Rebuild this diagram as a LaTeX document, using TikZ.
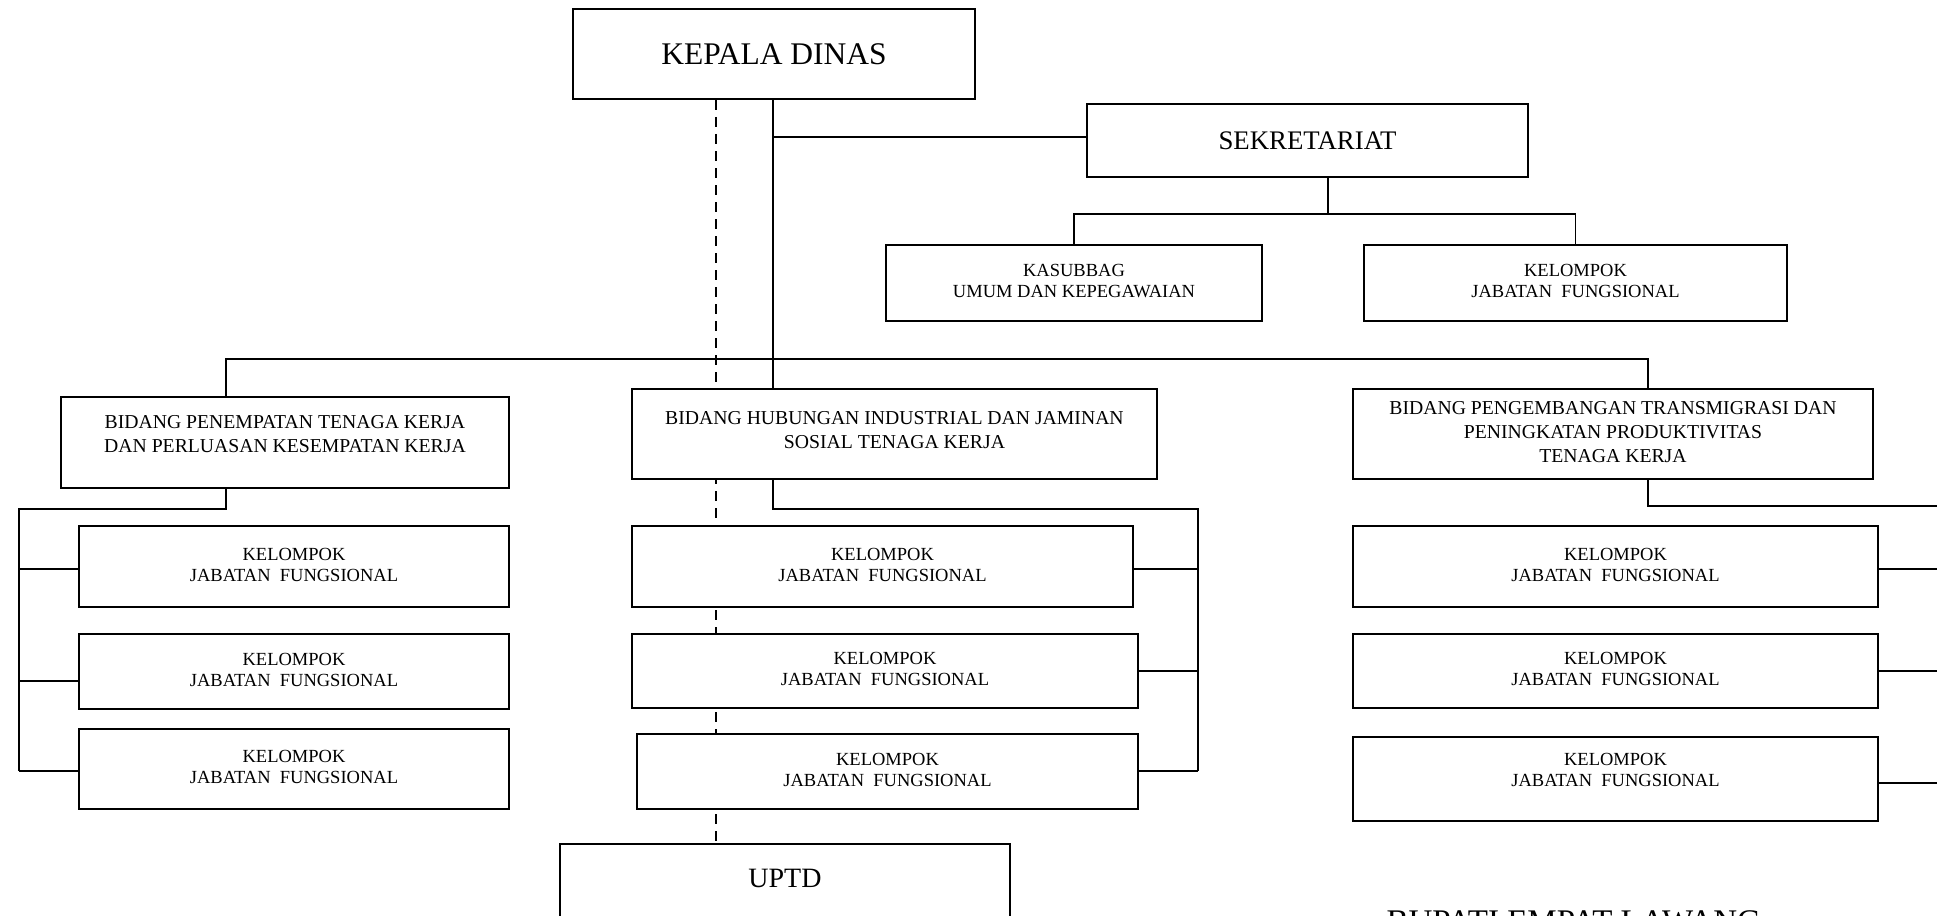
\documentclass[tikz,border=0pt]{standalone}
\usepackage{fontspec}
\setmainfont{Liberation Serif}
\newcommand\mlines[2]{\raisebox{#1}[\height][\depth]{\begin{tabular}{@{}c@{}}#2\end{tabular}}}
\pgfdeclarelayer{bg}
\pgfsetlayers{bg,main}
\tikzset{
  box/.style={draw, line width=2pt, fill=white, rectangle, inner sep=0pt},
  conn/.style={line width=1.7pt},
  dashconn/.style={line width=1.7pt, dash pattern=on 10pt off 7pt},
  bigtxt/.style={font=\fontsize{31.5}{36}\selectfont},
  sektxt/.style={font=\fontsize{26.8}{32}\selectfont},
  uptdtxt/.style={font=\fontsize{28}{32}\selectfont},
  bidtxt/.style={font=\fontsize{19.7}{24}\selectfont},
  keltxt/.style={font=\fontsize{18.5}{21}\selectfont},
  kelbox/.style={box, keltxt},
}
\newcommand\kel{\mlines{0pt}{KELOMPOK\\JABATAN~\ FUNGSIONAL}}
\begin{document}
\begin{tikzpicture}[x=1pt,y=-1pt]
\useasboundingbox (0,0) rectangle (1937,915);
\clip (0,0) rectangle (1937,915);

% boxes
\node[box, bigtxt, minimum width=402pt, minimum height=90pt] (KD) at (774,54) {KEPALA DINAS};
\node[box, sektxt, minimum width=441pt, minimum height=73pt] (SEKR) at (1307.5,140.5) {SEKRETARIAT};
\node[kelbox, minimum width=376pt, minimum height=76pt] (KASUB) at (1074,283) {\mlines{0pt}{KASUBBAG\\UMUM DAN KEPEGAWAIAN}};
\node[kelbox, minimum width=423pt, minimum height=76pt] (KELS) at (1575.5,283) {\kel};

\node[box, bidtxt, minimum width=448pt, minimum height=91pt] (BP) at (285,442.5) {\mlines{7pt}{BIDANG PENEMPATAN TENAGA KERJA\\DAN PERLUASAN KESEMPATAN KERJA}};
\node[box, bidtxt, minimum width=525pt, minimum height=90pt] (BH) at (894.5,434) {\mlines{2pt}{BIDANG HUBUNGAN INDUSTRIAL DAN JAMINAN\\SOSIAL TENAGA KERJA}};
\node[box, bidtxt, minimum width=520pt, minimum height=90pt] (BPT) at (1613,434) {\mlines{0pt}{BIDANG PENGEMBANGAN TRANSMIGRASI DAN\\PENINGKATAN PRODUKTIVITAS\\TENAGA KERJA}};

\node[kelbox, minimum width=430pt, minimum height=81pt] (L1) at (294,566.5) {\kel};
\node[kelbox, minimum width=430pt, minimum height=75pt] (L2) at (294,671.5) {\kel};
\node[kelbox, minimum width=430pt, minimum height=80pt] (L3) at (294,769) {\kel};

\node[kelbox, minimum width=501pt, minimum height=81pt] (M1) at (882.5,566.5) {\kel};
\node[kelbox, minimum width=506pt, minimum height=74pt] (M2) at (885,671) {\kel};
\node[kelbox, minimum width=501pt, minimum height=75pt] (M3) at (887.5,771.5) {\kel};

\node[kelbox, minimum width=525pt, minimum height=81pt] (R1) at (1615.5,566.5) {\kel};
\node[kelbox, minimum width=525pt, minimum height=74pt] (R2) at (1615.5,671) {\kel};
\node[kelbox, minimum width=525pt, minimum height=84pt] (R3) at (1615.5,779) {\mlines{7pt}{KELOMPOK\\JABATAN~\ FUNGSIONAL}};

\node[box, uptdtxt, minimum width=450pt, minimum height=116pt] (UPTD) at (785,902) {\raisebox{24pt}[\height][\depth]{UPTD}};

\node[anchor=base west, font=\fontsize{33}{38}\selectfont] (bupati) at (1383,932) {BUPATI EMPAT LAWANG};

% helper coordinates
\coordinate (dx) at (716,0);
\coordinate (xkd) at (773,0);
\coordinate (xbp) at (226,0);
\coordinate (xbpt) at (1648,0);
\coordinate (xsk) at (1328,0);
\coordinate (xl) at (19,0);
\coordinate (xm) at (1198,0);
\coordinate (xr) at (1937,0);
\coordinate (ybus) at (0,359);
\coordinate (ysek) at (0,137);
\coordinate (ysk) at (0,214);
\coordinate (yl) at (0,509);
\coordinate (yr) at (0,506);
\coordinate (yb1) at (0,569);
\coordinate (yl2) at (0,681);
\coordinate (ym2) at (0,671);
\coordinate (yb3) at (0,771);
\coordinate (yr3) at (0,783);

\begin{pgfonlayer}{bg}
  \fill[white] (0,0) rectangle (1937,915);
  \draw[dashconn] (KD.south -| dx) -- (UPTD.north -| dx);
\end{pgfonlayer}

% connectors
\draw[conn] (KD.south -| xkd) -- (BH.north -| xkd);
\draw[conn] (xkd |- ysek) -- (SEKR.west |- ysek);
\draw[conn] (SEKR.south -| xsk) -- (xsk |- ysk);
\draw[conn] (KASUB.north) -- (KASUB.north |- ysk) -- (KELS.north |- ysk) -- (KELS.north);
\draw[conn] (BP.north -| xbp) -- (xbp |- ybus) -- (xbpt |- ybus) -- (BPT.north -| xbpt);

\draw[conn] (BP.south -| xbp) -- (xbp |- yl) -- (xl |- yl) -- (xl |- yb3);
\draw[conn] (L1.west |- yb1) -- (xl |- yb1);
\draw[conn] (L2.west |- yl2) -- (xl |- yl2);
\draw[conn] (L3.west |- yb3) -- (xl |- yb3);

\draw[conn] (BH.south -| xkd) -- (xkd |- yl) -- (xm |- yl) -- (xm |- yb3);
\draw[conn] (M1.east |- yb1) -- (xm |- yb1);
\draw[conn] (M2.east |- ym2) -- (xm |- ym2);
\draw[conn] (M3.east |- yb3) -- (xm |- yb3);

\draw[conn] (BPT.south -| xbpt) -- (xbpt |- yr) -- (xr |- yr);
\draw[conn] (R1.east |- yb1) -- (xr |- yb1);
\draw[conn] (R2.east |- ym2) -- (xr |- ym2);
\draw[conn] (R3.east |- yr3) -- (xr |- yr3);
\end{tikzpicture}
\end{document}
